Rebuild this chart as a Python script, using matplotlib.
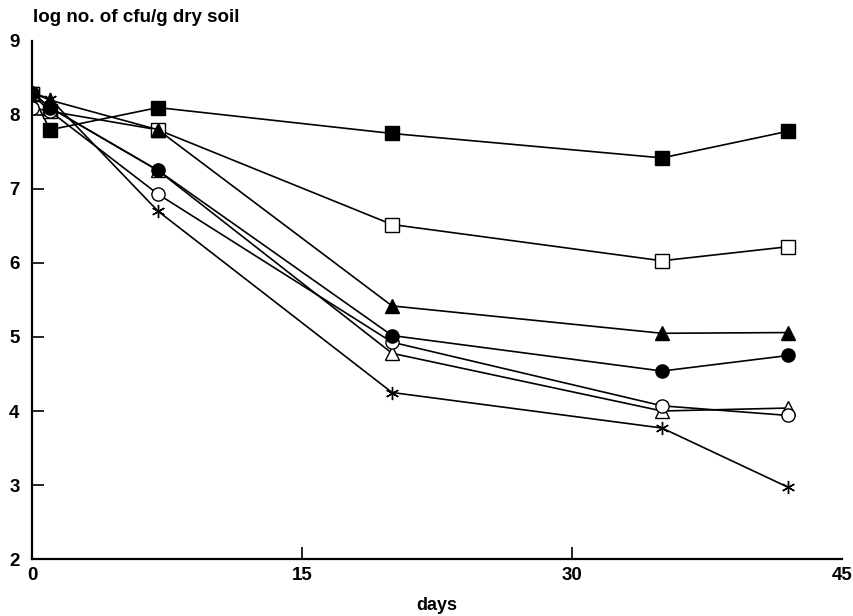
import numpy as np
import matplotlib.pyplot as plt

plt.rcParams['font.family'] = ['Liberation Sans', 'DejaVu Sans']
plt.rcParams['font.weight'] = 'bold'

days = [0, 1, 7, 20, 35, 42]

filled_square = [8.28, 7.8, 8.1, 7.75, 7.42, 7.78]
open_square = [8.28, 8.05, 7.8, 6.52, 6.03, 6.22]
filled_triangle = [8.3, 8.2, 7.8, 5.42, 5.05, 5.06]
filled_circle = [8.3, 8.1, 7.25, 5.02, 4.54, 4.75]
open_triangle = [8.3, 8.1, 7.25, 4.78, 4.0, 4.04]
open_circle = [8.1, 8.05, 6.93, 4.93, 4.07, 3.94]
star = [8.3, 8.22, 6.7, 4.25, 3.77, 2.97]

xticks = [0, 15, 30, 45]
yticks = [2, 3, 4, 5, 6, 7, 8, 9]

fig = plt.figure(figsize=(8.54, 6.16), dpi=100)
ax = fig.add_axes([0.0375, 0.0925, 0.9485, 0.841])

lw = 1.2
ms = 9.5
ax.plot(days, filled_square, 'k-', lw=lw, marker='s', ms=ms, mfc='k', mec='k')
ax.plot(days, open_square, 'k-', lw=lw, marker='s', ms=ms, mfc='white', mec='k', mew=1.0)
ax.plot(days, filled_triangle, 'k-', lw=lw, marker='^', ms=ms + 1, mfc='k', mec='k')
ax.plot(days, open_triangle, 'k-', lw=lw, marker='^', ms=ms + 1, mfc='white', mec='k', mew=1.0)
ax.plot(days, open_circle, 'k-', lw=lw, marker='o', ms=ms, mfc='white', mec='k', mew=1.0)
ax.plot(days, filled_circle, 'k-', lw=lw, marker='o', ms=ms, mfc='k', mec='k')
ax.plot(days, star, 'k-', lw=lw, marker=(6, 2, 0), ms=ms, mec='k', mew=1.0)

ax.set_xlim(0, 45)
ax.set_ylim(2, 9)
ax.set_xticks(xticks)
ax.set_yticks(yticks)
ax.tick_params(direction='in', length=8.5, width=1.2, labelsize=13.5)
ax.tick_params(axis='x', pad=6)
ax.tick_params(axis='y', pad=9)
ax.xaxis.get_major_ticks()[-1].tick1line.set_visible(False)
ax.yaxis.get_major_ticks()[-1].tick1line.set_visible(False)
for s in ['top', 'right']:
    ax.spines[s].set_visible(False)
for s in ['left', 'bottom']:
    ax.spines[s].set_linewidth(1.6)

ax.set_xlabel('days', fontsize=13, fontweight='bold', labelpad=9)
fig.text(33 / 854, 1 - 9 / 616, 'log no. of cfu/g dry soil', fontsize=13.5,
         fontweight='bold', ha='left', va='top')

plt.savefig('out.png', dpi=100)
